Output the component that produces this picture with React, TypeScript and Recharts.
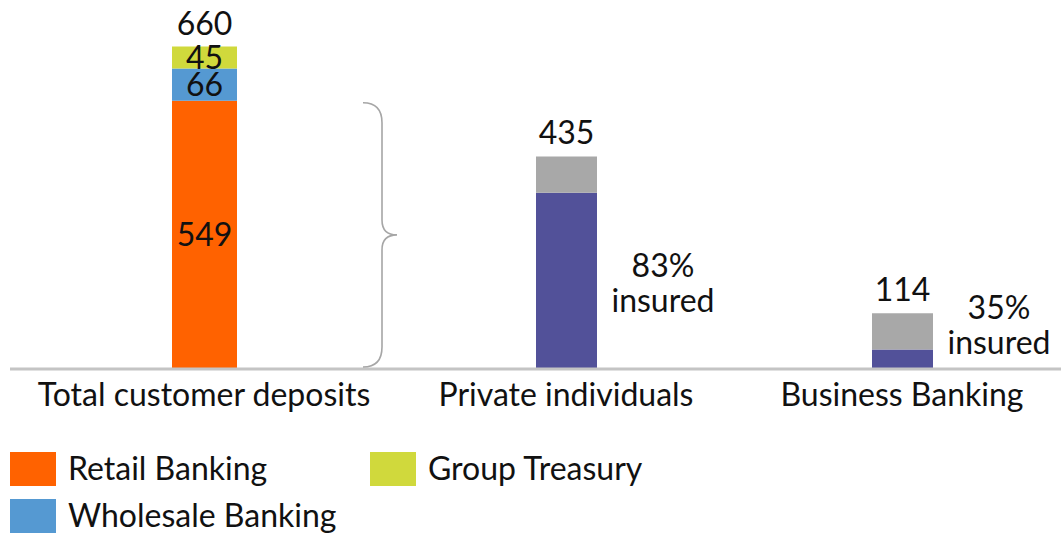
import React from 'react';
import { BarChart, Bar, XAxis, YAxis, LabelList } from 'recharts';

// ---- data ----
const totalCategories = ['Total customer deposits'];
const retailBanking = [549];
const wholesaleBanking = [66];
const groupTreasury = [45];
const totalDeposits = [660];

const segmentCategories = ['Private individuals', 'Business Banking'];
const segmentTotals = [435, 114];
const insuredAmounts = [361, 40];
const uninsuredAmounts = [74, 74];
const insuredPct = [83, 35];

const legendNames = ['Retail Banking', 'Group Treasury', 'Wholesale Banking'];
const legendColors = ['#FF6200', '#D0D93C', '#5599D2'];

const FONT = 'Lato, "Noto Sans", sans-serif';
const FS = 32;
const TEXT = '#111111';
const AXIS = '#C4C4C4';
const DOMAIN: [number, number] = [0, 700];
const CH_H = 420;
const MARGIN_TOP = 27;
const XAXIS_H = 51;

const totalData = totalCategories.map((name, i) => ({
  name,
  retail: retailBanking[i],
  wholesale: wholesaleBanking[i],
  treasury: groupTreasury[i],
  total: totalDeposits[i],
}));

const segmentData = segmentCategories.map((name, i) => ({
  name,
  insured: insuredAmounts[i],
  uninsured: uninsuredAmounts[i],
  total: segmentTotals[i],
  pct: insuredPct[i],
}));

const Tick = (props: any) => {
  const { x, y, payload } = props;
  return (
    <text x={x} y={y + 37} textAnchor="middle" fontFamily={FONT} fontSize={FS} fill={TEXT}>
      {payload.value}
    </text>
  );
};

const InsideLabel = (props: any) => {
  const { x, y, width, height, value } = props;
  return (
    <text
      x={x + width / 2}
      y={y + height / 2 + 11}
      textAnchor="middle"
      fontFamily={FONT}
      fontSize={FS}
      fill={TEXT}
    >
      {value}
    </text>
  );
};

const makeTopLabel = (totals: number[]) => (props: any) => {
  const { x, y, width, index } = props;
  return (
    <text x={x + width / 2} y={y - 12} textAnchor="middle" fontFamily={FONT} fontSize={FS} fill={TEXT}>
      {totals[index]}
    </text>
  );
};

const Brace = (props: any) => {
  const { x, y, width, height } = props;
  const x0 = x + width + 126;
  const x1 = x0 + 19;
  const x2 = x0 + 34;
  const yt = y + 2;
  const yb = y + height - 2;
  const ym = (yt + yb) / 2;
  const r = 20;
  const rm = 15;
  const d = `M ${x0} ${yt} Q ${x1} ${yt} ${x1} ${yt + r} L ${x1} ${ym - rm} Q ${x1} ${ym} ${x2} ${ym} Q ${x1} ${ym} ${x1} ${ym + rm} L ${x1} ${yb - r} Q ${x1} ${yb} ${x0} ${yb}`;
  return <path d={d} fill="none" stroke="#A6A6A6" strokeWidth={1.6} />;
};

const InsuredLabel = (props: any) => {
  const { x, y, width, height, index } = props;
  const cx = x + width + 66;
  const bottom = y + height;
  const b1 = Math.min(y + height / 2 - 4, bottom - 50);
  return (
    <text textAnchor="middle" fontFamily={FONT} fontSize={FS} fill={TEXT}>
      <tspan x={cx} y={b1}>{`${insuredPct[index]}%`}</tspan>
      <tspan x={cx} y={b1 + 35}>insured</tspan>
    </text>
  );
};

export default function App() {
  // legend layout: two columns, wraps to a second row
  const legendSlots = [
    { x: 10, y: 12 },
    { x: 370, y: 12 },
    { x: 10, y: 59 },
  ];
  return (
    <div
      style={{
        position: 'absolute',
        left: 0,
        top: 0,
        width: 1061,
        height: 534,
        overflow: 'hidden',
        background: '#fff',
        fontFamily: FONT,
      }}
    >
      <div style={{ position: 'absolute', left: 0, top: 0 }}>
        <BarChart
          width={398}
          height={CH_H}
          data={totalData}
          margin={{ top: MARGIN_TOP, right: 0, left: 10, bottom: 0 }}
        >
          <XAxis
            dataKey="name"
            height={XAXIS_H}
            axisLine={{ stroke: AXIS, strokeWidth: 3 }}
            tickLine={false}
            tickSize={0}
            tickMargin={0}
            tick={<Tick />}
            interval={0}
          />
          <YAxis hide domain={DOMAIN} />
          <Bar dataKey="retail" stackId="a" fill="#FF6200" barSize={65} isAnimationActive={false}>
            <LabelList dataKey="retail" content={<InsideLabel />} />
            <LabelList dataKey="retail" content={<Brace />} />
          </Bar>
          <Bar dataKey="wholesale" stackId="a" fill="#5599D2" barSize={65} isAnimationActive={false}>
            <LabelList dataKey="wholesale" content={<InsideLabel />} />
          </Bar>
          <Bar dataKey="treasury" stackId="a" fill="#D0D93C" barSize={65} isAnimationActive={false}>
            <LabelList dataKey="treasury" content={<InsideLabel />} />
            <LabelList dataKey="treasury" content={makeTopLabel(totalDeposits)} />
          </Bar>
        </BarChart>
      </div>
      <div style={{ position: 'absolute', left: 398, top: 0 }}>
        <BarChart
          width={672}
          height={CH_H}
          data={segmentData}
          margin={{ top: MARGIN_TOP, right: 0, left: 0, bottom: 0 }}
        >
          <XAxis
            dataKey="name"
            height={XAXIS_H}
            axisLine={{ stroke: AXIS, strokeWidth: 3 }}
            tickLine={false}
            tickSize={0}
            tickMargin={0}
            tick={<Tick />}
            interval={0}
          />
          <YAxis hide domain={DOMAIN} />
          <Bar dataKey="insured" stackId="b" fill="#525199" barSize={61} isAnimationActive={false}>
            <LabelList dataKey="insured" content={<InsuredLabel />} />
          </Bar>
          <Bar dataKey="uninsured" stackId="b" fill="#A8A8A8" barSize={61} isAnimationActive={false}>
            <LabelList dataKey="uninsured" content={makeTopLabel(segmentTotals)} />
          </Bar>
        </BarChart>
      </div>
      {/* legend */}
      <svg
        width={1061}
        height={94}
        style={{ position: 'absolute', left: 0, top: 440, display: 'block' }}
      >
        {legendNames.map((name, i) => {
          const s = legendSlots[i];
          return (
            <g key={name}>
              <rect x={s.x} y={s.y} width={46} height={34} fill={legendColors[i]} />
              <text x={s.x + 58} y={s.y + 28} fontFamily={FONT} fontSize={FS} fill={TEXT}>
                {name}
              </text>
            </g>
          );
        })}
      </svg>
    </div>
  );
}
